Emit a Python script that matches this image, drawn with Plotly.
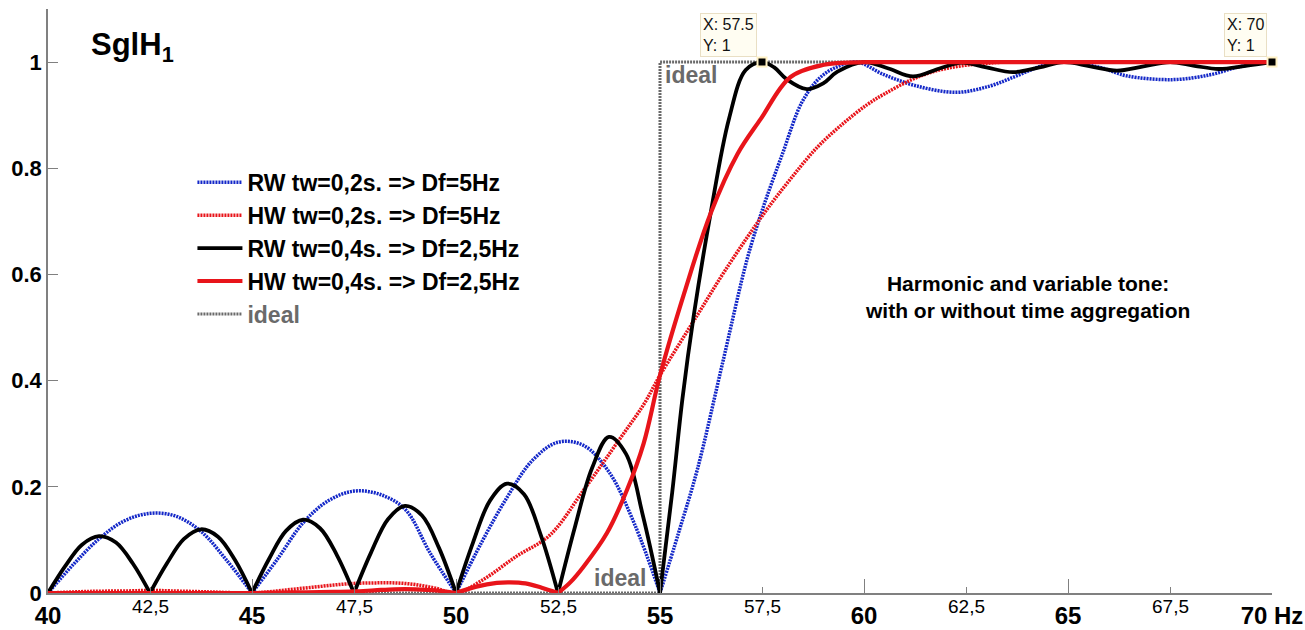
import plotly.graph_objects as go

# ---------------- data ----------------
# RW tw=0,2s (Df=5Hz) - blue dotted; lobes separated by None for sharp zeros
rw02_x = [40, 40.625, 41.25, 41.875, 42.5, 43.125, 43.75, 44.375, 45, None,
          45, 45.625, 46.25, 46.875, 47.5, 48.125, 48.75, 49.375, 50, None,
          50, 50.625, 51.25, 51.875, 52.5, 53.125, 53.75, 54.375, 55, None,
          55, 55.45, 55.92, 56.53, 57.14, 57.51, 58.0, 58.49, 58.94, 59.4, 59.84,
          60.47, 61.29, 62.27, 63.09, 63.74, 64.4, 64.9, 65.78, 66.44, 67.58,
          68.48, 69.13, 69.78, 70]
rw02_y = [0, 0.054, 0.102, 0.136, 0.150, 0.145, 0.116, 0.062, 0, None,
          0, 0.064, 0.132, 0.174, 0.192, 0.186, 0.158, 0.074, 0, None,
          0, 0.095, 0.180, 0.250, 0.284, 0.278, 0.228, 0.130, 0, None,
          0, 0.112, 0.234, 0.432, 0.630, 0.722, 0.827, 0.926, 0.972, 0.993, 1.0,
          0.977, 0.955, 0.943, 0.955, 0.974, 0.994, 1.0, 0.990, 0.974, 0.967,
          0.976, 0.990, 0.999, 1.0]

# HW tw=0,2s (Df=5Hz) - red dotted
hw02_x = [40, 41, 42, 42.5, 43, 44, 45, 45.5, 46, 46.5, 47, 47.5, 48, 48.5,
          49, 49.5, 50, 50.66, 51.48, 52.3, 53.13, 54.03, 54.6, 55.0, 55.92,
          56.6, 57.55, 58.2, 58.86, 59.5, 60.08, 60.5, 61.14, 61.7, 62.3, 62.9,
          63.5, 64.5, 66, 68, 70]
hw02_y = [0, 0.003, 0.004, 0.005, 0.004, 0.002, 0, 0.003, 0.007, 0.011,
          0.015, 0.018, 0.019, 0.019, 0.016, 0.009, 0, 0.025, 0.069, 0.109,
          0.194, 0.292, 0.355, 0.410, 0.524, 0.608, 0.715, 0.780, 0.840, 0.885,
          0.920, 0.940, 0.966, 0.982, 0.992, 0.997, 1.0, 1.0, 1.0, 1.0, 1.0]

# RW tw=0,4s (Df=2,5Hz) - black solid
rw04_x = [40, 40.417, 40.833, 41.25, 41.667, 42.083, 42.5, None,
          42.5, 42.917, 43.333, 43.75, 44.167, 44.583, 45, None,
          45, 45.417, 45.833, 46.25, 46.667, 47.083, 47.5, None,
          47.5, 47.917, 48.333, 48.75, 49.167, 49.583, 50, None,
          50, 50.417, 50.833, 51.25, 51.667, 52.083, 52.5, None,
          52.5, 52.917, 53.333, 53.75, 54.167, 54.583, 55, None,
          55, 55.3, 55.55, 55.83, 56.24, 56.69, 57.1, 57.5, 57.8, 58.1, 58.6,
          59.0, 59.35, 60.0, 60.6, 61.2, 61.85, 62.4, 63.0, 63.65, 64.3, 64.9,
          65.55, 66.2, 66.85, 67.5, 68.1, 68.7, 69.35, 70]
rw04_y = [0, 0.050, 0.091, 0.107, 0.095, 0.055, 0, None,
          0, 0.056, 0.102, 0.120, 0.106, 0.062, 0, None,
          0, 0.064, 0.117, 0.138, 0.122, 0.071, 0, None,
          0, 0.076, 0.139, 0.164, 0.146, 0.085, 0, None,
          0, 0.095, 0.174, 0.206, 0.186, 0.108, 0, None,
          0, 0.125, 0.235, 0.294, 0.262, 0.145, 0, None,
          0, 0.190, 0.366, 0.524, 0.715, 0.893, 0.985, 1.0, 0.990, 0.968, 0.949,
          0.960, 0.982, 1.0, 0.988, 0.973, 0.988, 0.999, 0.990, 0.981, 0.990, 1.0,
          0.992, 0.984, 0.992, 1.0, 0.993, 0.987, 0.993, 1.0]

# HW tw=0,4s (Df=2,5Hz) - red solid
hw04_x = [40, 42.5, 45, 46, 47, 47.5, 48, 48.5, 49, 49.5, 50, None,
          50, 50.5, 51, 51.32, 51.7, 52.1, 52.5, None,
          52.5, 52.8, 53.13, 53.7, 54.19, 54.6, 55.0, 55.59, 56.24, 56.9,
          57.47, 58.2, 59.02, 59.6, 60.2, 61, 63, 66, 70]
hw04_y = [0, 0, 0, 0.001, 0.002, 0.003, 0.005, 0.007, 0.007, 0.005, 0, None,
          0, 0.012, 0.019, 0.020, 0.018, 0.010, 0, None,
          0, 0.020, 0.050, 0.113, 0.194, 0.282, 0.410, 0.564, 0.715, 0.827,
          0.893, 0.972, 0.995, 0.999, 1.0, 1.0, 1.0, 1.0, 1.0]

# ideal characteristic
ideal_x = [40, 55, 55, 70]
ideal_y = [0, 0, 1, 1]

# data tips
tip_x = [57.5, 70]
tip_y = [1, 1]

x_major = [40, 45, 50, 55, 60, 65, 70]
x_major_text = ["40", "45", "50", "55", "60", "65", "70 Hz"]
x_minor = [42.5, 47.5, 52.5, 57.5, 62.5, 67.5]
x_minor_text = ["42,5", "47,5", "52,5", "57,5", "62,5", "67,5"]
y_ticks = [0, 0.2, 0.4, 0.6, 0.8, 1]
y_tick_text = ["0", "0.2", "0.4", "0.6", "0.8", "1"]

legend_names = ["RW tw=0,2s. => Df=5Hz", "HW tw=0,2s. => Df=5Hz",
                "RW tw=0,4s. => Df=2,5Hz", "HW tw=0,4s. => Df=2,5Hz", "ideal"]

# ---------------- figure ----------------
FONT = "Liberation Sans, Arial, sans-serif"
NARROW = "Liberation Sans Narrow, Arial Narrow, Liberation Sans, Arial, sans-serif"
BLUE = "#1428c8"
RED = "#e8141a"
GRAY = "#6a6a6a"

fig = go.Figure()

fig.add_trace(go.Scatter(
    x=ideal_x, y=ideal_y, mode="lines", name="<span style='color:#6a6a6a'><b>ideal</b></span>",
    line=dict(color=GRAY, width=3, dash="2px,1px"), legendrank=5,
    legendgroup="e", cliponaxis=False, hoverinfo="skip"))
fig.add_trace(go.Scatter(
    x=rw02_x, y=rw02_y, mode="lines", name="<b>" + legend_names[0] + "</b>",
    line=dict(color=BLUE, width=3.5, dash="2px,1px", shape="spline", smoothing=1.0),
    legendrank=1, legendgroup="a", cliponaxis=False, connectgaps=False))
fig.add_trace(go.Scatter(
    x=hw02_x, y=hw02_y, mode="lines", name="<b>" + legend_names[1] + "</b>",
    line=dict(color=RED, width=3.5, dash="2px,1px", shape="spline", smoothing=1.0),
    legendrank=2, legendgroup="b", cliponaxis=False))
fig.add_trace(go.Scatter(
    x=rw04_x, y=rw04_y, mode="lines", name="<b>" + legend_names[2] + "</b>",
    line=dict(color="black", width=3.8, shape="spline", smoothing=1.0),
    legendrank=3, legendgroup="c", cliponaxis=False, connectgaps=False))
fig.add_trace(go.Scatter(
    x=hw04_x, y=hw04_y, mode="lines", name="<b>" + legend_names[3] + "</b>",
    line=dict(color=RED, width=4.2, shape="spline", smoothing=1.0),
    legendrank=4, legendgroup="d", cliponaxis=False, connectgaps=False))
fig.add_trace(go.Scatter(
    x=tip_x, y=tip_y, mode="markers", showlegend=False, cliponaxis=False,
    marker=dict(symbol="square", size=9, color="black",
                line=dict(color="#fff1c4", width=2))))

annotations = []
for xv, yv in zip(tip_x, tip_y):
    annotations.append(dict(
        x=xv, y=yv, xref="x", yref="y", showarrow=False,
        text="X: %g<br>Y: %g" % (xv, yv), align="left",
        xanchor="right", yanchor="bottom", xshift=-5, yshift=5,
        font=dict(family=FONT, size=16, color="#111"),
        bgcolor="#fffdf2", bordercolor="#e9dfc4", borderwidth=1, borderpad=2))
for xv, t in zip(x_minor, x_minor_text):
    annotations.append(dict(
        x=xv, y=0, xref="x", yref="paper", yanchor="top", showarrow=False,
        yshift=-1, text=t, font=dict(family=NARROW, size=19, color="black")))
annotations += [
    dict(x=41.0, y=1.028, xref="x", yref="y", xanchor="left", yanchor="middle",
         showarrow=False, text="<b>SglH<sub>1</sub></b>",
         font=dict(family=FONT, size=31, color="black")),
    dict(x=64.0, y=0.557, xref="x", yref="y", showarrow=False,
         text="<b>Harmonic and variable tone:<br>with or without time aggregation</b>",
         font=dict(family=FONT, size=21, color="black")),
    dict(x=54.02, y=0.028, xref="x", yref="y", showarrow=False,
         text="<b>ideal</b>", font=dict(family=FONT, size=23, color=GRAY)),
    dict(x=55.76, y=0.975, xref="x", yref="y", showarrow=False,
         text="<b>ideal</b>", font=dict(family=FONT, size=23, color=GRAY)),
]

fig.update_layout(
    width=1305, height=630,
    margin=dict(l=48, r=33, t=9, b=37, autoexpand=False),
    paper_bgcolor="white", plot_bgcolor="white",
    font=dict(family=FONT, color="black"),
    showlegend=True,
    legend=dict(x=0.118, y=0.74, xanchor="left", yanchor="top",
                bgcolor="rgba(255,255,255,0)", borderwidth=0,
                font=dict(family=FONT, size=23, color="black"),
                tracegroupgap=0, itemwidth=45),
    annotations=annotations,
    xaxis=dict(range=[40, 70], showgrid=False, zeroline=False,
               showline=True, linecolor="#808080", linewidth=1.5,
               ticks="inside", ticklen=14, tickcolor="#808080", tickwidth=1.2,
               tickmode="array", tickvals=x_major,
               ticktext=["<b>%s</b>" % t for t in x_major_text],
               tickfont=dict(family=NARROW, size=24, color="black"),
               minor=dict(tickmode="array", tickvals=x_minor, ticks="inside",
                          ticklen=6, tickcolor="#808080", tickwidth=1.2),
               automargin=False, fixedrange=True),
    yaxis=dict(range=[0, 1.1], showgrid=False, zeroline=False,
               showline=True, linecolor="#808080", linewidth=1.5,
               ticks="inside", ticklen=10, tickcolor="#808080", tickwidth=1.2,
               tickmode="array", tickvals=y_ticks,
               ticktext=["<b>%s</b>" % t for t in y_tick_text],
               tickfont=dict(family=FONT, size=22, color="black"),
               automargin=False, fixedrange=True),
)

fig.write_html("out.html")
